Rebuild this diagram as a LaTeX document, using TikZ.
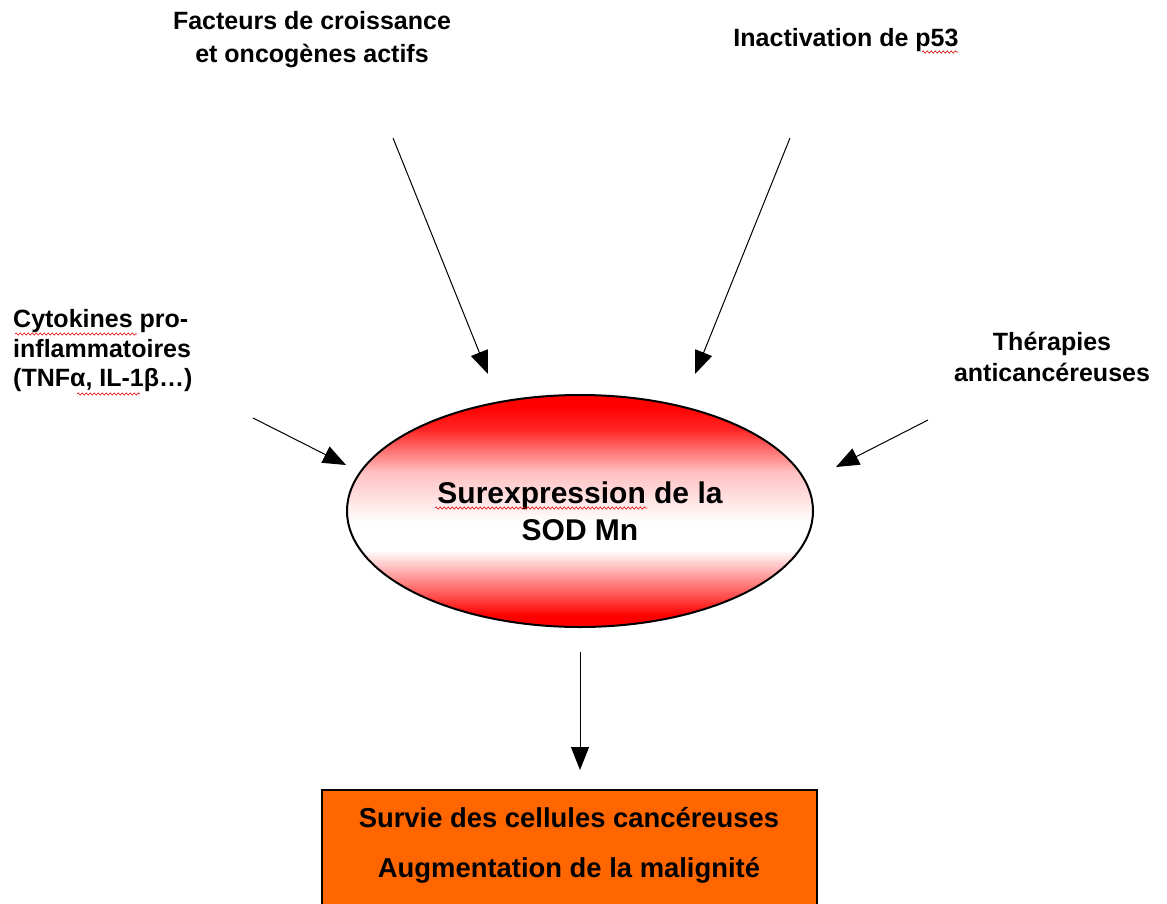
\documentclass[tikz,border=0pt]{standalone}
\usepackage{fontspec}
\setmainfont{Liberation Sans}
\usetikzlibrary{arrows.meta,shapes.geometric,decorations.pathmorphing}
\pgfdeclareverticalshading{sodshade}{100bp}{%
  color(0bp)=(red); color(25bp)=(red); color(27.5bp)=(red);
  color(33bp)=(red!60!white); color(41.5bp)=(white); color(47.5bp)=(white);
  color(58.5bp)=(red!25!white); color(67.5bp)=(red!85!white); color(72.5bp)=(red);
  color(75bp)=(red); color(100bp)=(red)}
\begin{document}
\begin{tikzpicture}[x=1pt,y=-1pt,
  lbl/.style={font=\bfseries\fontsize{25}{32}\selectfont, align=center, inner sep=0pt},
  conn/.style={line width=1pt, -{Triangle[length=23pt,width=18pt]}},
  squig/.style={red!85!black, line width=0.6pt, decorate, decoration={snake, amplitude=1.1pt, segment length=4pt}}]
\clip (0,0) rectangle (1167,904);
\fill[white] (0,0) rectangle (1167,904);
% labels
\node[lbl] (gf) at (312,40) {Facteurs de croissance\\[1pt]et oncogènes actifs};
\node[lbl] (p53) at (846,40) {Inactivation de p53};
\node[lbl, align=left, anchor=west, font=\bfseries\fontsize{25}{29.5}\selectfont] (cyt) at (13,351) {Cytokines pro-\\inflammatoires\\(TNFα, IL-1β…)};
\node[lbl, font=\bfseries\fontsize{25}{31}\selectfont] (ther) at (1052,357) {Thérapies\\anticancéreuses};
% ellipse
\node[ellipse, draw, line width=2pt, minimum width=466pt, minimum height=232pt, inner sep=0pt,
      shading=sodshade,
      font=\bfseries\fontsize{30}{37}\selectfont, align=center] (sod) at (580,511)
      {Surexpression de la\\SOD Mn};
% result box
\node[draw, line width=2pt, fill={rgb,255:red,255;green,102;blue,0}, minimum width=495pt, minimum height=140pt,
      anchor=north, inner sep=0pt] (box) at (569.5,789) {};
\node[lbl, font=\bfseries\fontsize{27.4}{50}\selectfont] (boxt) at (569,845) {Survie des cellules cancéreuses\\Augmentation de la malignité};
% connector ends
\coordinate (a1s) at (393,138); \coordinate (a1e) at (488,374);
\coordinate (a2s) at (790,138); \coordinate (a2e) at (695,374);
\coordinate (a3s) at (253,418); \coordinate (a3e) at (346,465);
\coordinate (a4s) at (928,420); \coordinate (a4e) at (836,467);
\coordinate (a5s) at (580,652); \coordinate (a5e) at (580,770);
\draw[conn] (a1s) -- (a1e);
\draw[conn] (a2s) -- (a2e);
\draw[conn] (a3s) -- (a3e);
\draw[conn] (a4s) -- (a4e);
\draw[conn] (a5s) -- (a5e);
% spell-check squiggles
\draw[squig] (922,52) -- (958,52);
\draw[squig] (15,334) -- (137,334);
\draw[squig] (77,394) -- (140,394);
\draw[squig] (435,508) -- (647,508);
\end{tikzpicture}
\end{document}
